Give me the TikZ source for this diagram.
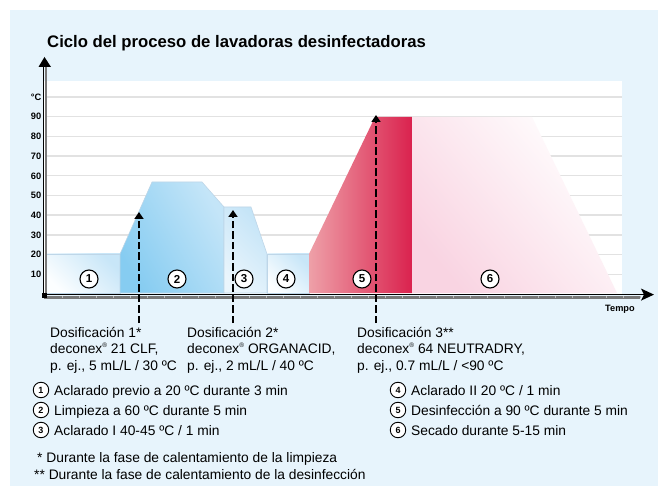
\documentclass[tikz,border=0pt]{standalone}
\usepackage{fontspec}
\setmainfont{Liberation Sans}
\usetikzlibrary{arrows.meta}
\definecolor{bgblue}{RGB}{231,244,252}
\definecolor{gridgray}{RGB}{226,226,226}
\definecolor{edgeblue}{RGB}{190,214,232}
\definecolor{lbA}{RGB}{252,254,255}
\definecolor{lbB}{RGB}{200,230,248}
\definecolor{mbA}{RGB}{134,204,241}
\definecolor{mbB}{RGB}{196,229,248}
\definecolor{pbA}{RGB}{234,245,252}
\definecolor{pbB}{RGB}{196,228,247}
\definecolor{rdA}{RGB}{238,160,168}
\definecolor{rdB}{RGB}{218,34,78}
\definecolor{pkA}{RGB}{249,212,226}
\definecolor{pkB}{RGB}{255,255,255}
\definecolor{axgray}{RGB}{120,120,120}
\newcommand{\regmark}{\raisebox{0.42em}{\fontsize{6.5}{6.5}\selectfont ®}}
\tikzset{
  phaseblue/.style={draw=edgeblue, line width=0.6pt},
  numc/.style={circle, draw=black, line width=1.1pt, fill=white, minimum size=18pt, inner sep=0pt, font=\fontsize{11.5}{11.5}\selectfont\bfseries},
  lnum/.style={circle, draw=black, line width=0.9pt, fill=white, minimum size=15.5pt, inner sep=0pt, font=\fontsize{9}{9}\selectfont\bfseries},
  body/.style={anchor=base west, inner sep=0pt, font=\fontsize{13.8}{16}\selectfont},
  ylab/.style={anchor=east, inner sep=0pt, font=\fontsize{9.3}{9.3}\selectfont\bfseries},
  dose/.style={line width=2pt, dash pattern=on 7.5pt off 3pt, -{Triangle[width=9pt,length=7pt]}},
  gridline/.style={draw=gridgray, line width=1.4pt}
}
\begin{document}
\begin{tikzpicture}[x=1pt,y=-1pt]
\useasboundingbox (0,0) rectangle (658,486);
\fill[white] (0,0) rectangle (658,486);
\fill[bgblue] (10,10) rectangle (658,486);
\fill[white] (44,81) rectangle (622,295);
% title
\node[anchor=base west, inner sep=0pt, font=\fontsize{16.7}{20}\selectfont\bfseries] (title) at (47,48) {Ciclo del proceso de lavadoras desinfectadoras};
% grid
\foreach \k in {1,...,10} {
  \draw[gridline] (45,{294-19.7*\k}) -- (622,{294-19.7*\k});
}
\foreach \k/\t in {1/10,2/20,3/30,4/40,5/50,6/60,7/70,8/80,9/90} {
  \node[ylab] (y\k) at (41.5,{294-19.7*\k}) {\t};
}
\node[ylab] (yc) at (41.5,97) {°C};
% phases
\path[phaseblue, bottom color=lbA, top color=lbB, shading angle=-45]
  (46,293) -- (46,254) -- (120,254) -- (120,293) -- cycle;
\path[phaseblue, bottom color=mbA, top color=mbB, shading angle=-60]
  (120,293) -- (120,254) -- (152,182) -- (202,182) -- (224,207) -- (224,293) -- cycle;
\path[phaseblue, bottom color=pbA, top color=pbB, shading angle=-45]
  (224,293) -- (224,207) -- (251,207) -- (267,254) -- (267,293) -- cycle;
\path[phaseblue, bottom color=lbA, top color=lbB, shading angle=-45]
  (267,293) -- (267,254) -- (309,254) -- (309,293) -- cycle;
\path[left color=rdA, right color=rdB]
  (309,293) -- (309,254) -- (375,117) -- (412,117) -- (412,293) -- cycle;
\path[bottom color=pkA, top color=pkB, shading angle=-50]
  (412,293) -- (412,117) -- (532,117) -- (617,293) -- cycle;
% phase numbers
\node[numc] (p1) at (89,279) {1};
\node[numc] (p2) at (177,279) {2};
\node[numc] (p3) at (244,279) {3};
\node[numc] (p4) at (286,279) {4};
\node[numc] (p5) at (362,279) {5};
\node[numc] (p6) at (490,279) {6};
% axes
\fill[axgray] (44,295.5) rectangle (640,298.5);
\foreach \i in {0,...,34} {
  \draw[gray!55, line width=0.6pt] ({62+17*\i},295.8) -- ({62+17*\i},298.3);
}
\coordinate (origin) at (44,294.6);
\coordinate (xend) at (654,294.6);
\coordinate (yend) at (44.5,57);
\draw[line width=1.4pt, -{Stealth[length=13pt,width=12pt,inset=3pt]}] (origin) -- (xend);
\draw[black, line width=1.6pt] (43.4,295) -- (43.4,66);
\draw[axgray, line width=2pt] (45.8,293) -- (45.8,66);
\fill[black] (38.5,67) -- (yend) -- (51,67) -- cycle;
\fill[black] (42,293) rectangle (47,298);
\node[anchor=base west, inner sep=0pt, font=\fontsize{9.2}{9.2}\selectfont\bfseries] (tempo) at (605,311) {Tempo};
% dosing arrows
\coordinate (d1b) at (139,323);
\coordinate (d1t) at (139,212);
\coordinate (d2b) at (233,323);
\coordinate (d2t) at (233,210);
\coordinate (d3b) at (376,323);
\coordinate (d3t) at (376,115);
\draw[dose] (d1b) -- (d1t);
\draw[dose] (d2b) -- (d2t);
\draw[dose] (d3b) -- (d3t);
% dosing texts
\node[body] (a1) at (50,337) {Dosificación 1*};
\node[body] (a2) at (50,353.5) {deconex\regmark\ 21 CLF,};
\node[body] (a3) at (50,370) {p. ej., 5 mL/L / 30 ºC};
\node[body] (b1) at (187,337) {Dosificación 2*};
\node[body] (b2) at (187,353.5) {deconex\regmark\ ORGANACID,};
\node[body] (b3) at (187,370) {p. ej., 2 mL/L / 40 ºC};
\node[body] (c1) at (357,337) {Dosificación 3**};
\node[body] (c2) at (357,353.5) {deconex\regmark\ 64 NEUTRADRY,};
\node[body] (c3) at (357,370) {p. ej., 0.7 mL/L / <90 ºC};
% legend
\node[lnum] (l1) at (41,390) {1};
\node[lnum] (l2) at (41,410) {2};
\node[lnum] (l3) at (41,430) {3};
\node[body] (t1) at (54,395) {Aclarado previo a 20 ºC durante 3 min};
\node[body] (t2) at (54,415) {Limpieza a 60 ºC durante 5 min};
\node[body] (t3) at (54,435) {Aclarado I 40-45 ºC / 1 min};
\node[lnum] (l4) at (398,390) {4};
\node[lnum] (l5) at (398,410) {5};
\node[lnum] (l6) at (398,430) {6};
\node[body] (t4) at (411,395) {Aclarado II 20 ºC / 1 min};
\node[body] (t5) at (411,415) {Desinfección a 90 ºC durante 5 min};
\node[body] (t6) at (411,435) {Secado durante 5-15 min};
% footnotes
\node[body] (f1) at (37,462) {* Durante la fase de calentamiento de la limpieza};
\node[body] (f2) at (34,479) {** Durante la fase de calentamiento de la desinfección};
\end{tikzpicture}
\end{document}
